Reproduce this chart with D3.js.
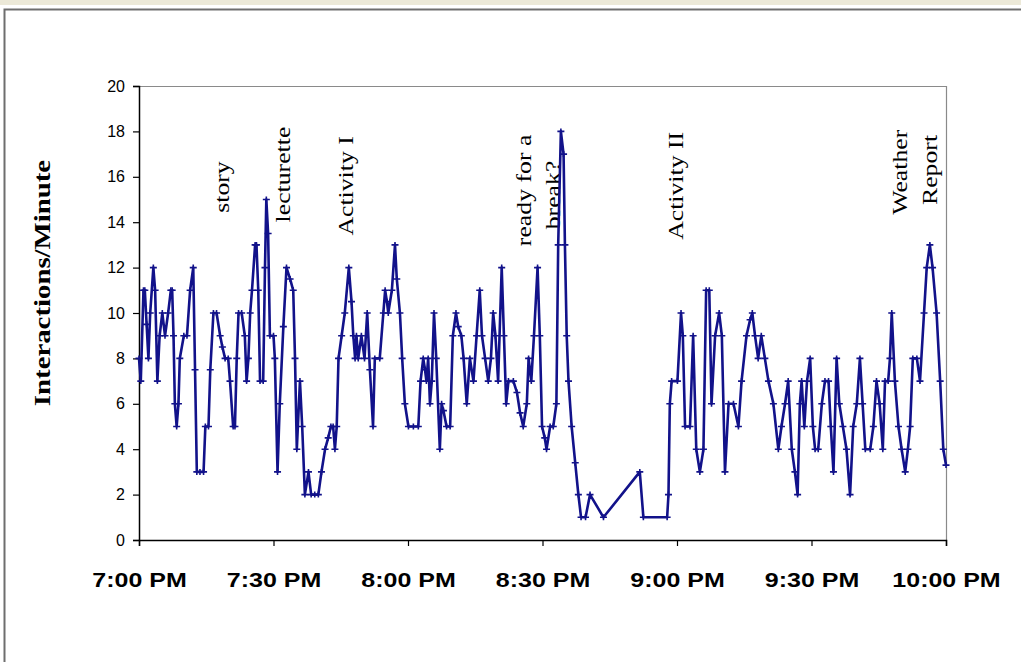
<!DOCTYPE html>
<html>
<head>
<meta charset="utf-8">
<script src="https://cdn.jsdelivr.net/npm/d3@7"></script>
<style>
  html, body { margin: 0; padding: 0; background: #fff; }
  svg { display: block; }
</style>
</head>
<body>
<svg id="chart" width="1021" height="662"></svg>
<script>
// ---- Data (minutes after 7:00 PM, interactions per minute) ----
const minutes = [
  0, 0.4, 1, 1.3, 1.7, 2.1, 2.5, 3.2, 3.6, 4.1, 4.6, 5.2, 5.8, 6.5, 7.1, 7.4, 7.7, 8, 8.4, 8.8,
  9.1, 10, 10.7, 11.4, 12.1, 12.5, 12.9, 13.6, 14.4, 14.8, 15.5, 15.9, 16.6, 17.3, 18.1, 18.6, 19.2, 19.9, 20.3, 21,
  21.4, 21.8, 22.2, 22.9, 23.6, 24, 24.4, 24.8, 25.2, 25.9, 26.2, 26.6, 27, 27.7, 28.1, 28.4, 28.8, 29.2, 30, 30.3,
  30.9, 31.4, 32.2, 32.9, 33.7, 34.4, 34.8, 35.2, 35.9, 36.4, 37, 37.8, 38.4, 39.2, 40, 40.7, 41.5, 42.2, 42.8, 43.3,
  43.7, 44.1, 44.5, 45.2, 45.9, 46.8, 47.4, 47.8, 48.2, 48.5, 48.9, 49.6, 50.3, 50.9, 51.5, 52.2, 52.6, 53.7, 54.5, 54.9,
  55.3, 55.6, 56.4, 57.1, 57.5, 58.2, 58.7, 59.3, 60.1, 61.2, 62.3, 62.8, 63.4, 63.8, 64.1, 64.5, 64.9, 65.3, 65.8, 66.3,
  67.1, 67.5, 67.9, 68.6, 69.4, 70, 70.7, 71.2, 71.9, 72.4, 73.1, 73.8, 74.6, 75.3, 76, 76.5, 77.2, 77.9, 78.5, 79,
  79.5, 80.1, 80.9, 81.4, 81.9, 82.4, 83.5, 84.3, 85, 85.7, 86.5, 86.9, 87.5, 88.1, 88.9, 89.4, 89.9, 90.5, 90.9, 91.7,
  92.4, 93.1, 93.5, 94.1, 94.7, 95, 95.4, 95.8, 96.5, 97.3, 98, 98.6, 99.6, 100.6, 103.6, 111.7, 112.5, 117.8, 118.1, 118.4,
  118.8, 120.1, 120.9, 121.3, 121.8, 122.9, 123.6, 124.3, 125.1, 125.9, 126.5, 127.2, 127.7, 128.5, 129.4, 130, 130.7, 131.5, 132.6, 133.7,
  134.4, 135.5, 136.3, 136.8, 137.4, 138.1, 138.8, 139.6, 140.4, 141.5, 142.6, 143.3, 144.1, 144.8, 145.6, 146.3, 146.9, 147.4, 147.8, 148.4,
  149, 149.7, 150.3, 150.8, 151.5, 152.3, 153, 153.8, 154.3, 154.9, 155.6, 156.2, 157, 157.8, 158.6, 159.3, 160.1, 160.8, 161.4, 162,
  163.1, 163.8, 164.5, 165.2, 165.9, 166.4, 167.1, 167.5, 167.9, 168.6, 169.4, 170.1, 170.9, 171.5, 172, 172.6, 173.5, 174.2, 175.1, 175.7,
  176.4, 177, 177.9, 178.7, 179.4, 180
];
const interactions = [
  8, 7, 11, 11, 9.5, 8, 10, 12, 11, 7, 9, 10, 9, 10, 11, 11, 9, 6, 5, 6,
  8, 9, 9, 11, 12, 7.5, 3, 3, 3, 5, 5, 7.5, 10, 10, 9, 8.5, 8, 8, 7, 5,
  5, 8, 10, 10, 9, 7, 8, 10, 11, 13, 13, 11, 7, 7, 12, 15, 13.5, 9, 9, 8,
  3, 6, 9.4, 12, 11.5, 11, 8, 4, 7, 5, 2, 3, 2, 2, 2, 3, 4, 4.5, 5, 5,
  4, 5, 8, 9, 10, 12, 10.5, 9, 8, 9, 8, 9, 8, 10, 7.5, 5, 8, 8, 10, 11,
  10.5, 10, 11, 13, 11.5, 10, 8, 6, 5, 5, 5, 7, 8, 7.5, 7, 8, 6, 7, 10, 8,
  4, 6, 5.7, 5, 5, 9, 10, 9.4, 9, 8, 6, 8, 7, 9, 11, 9, 8, 7, 8, 10,
  9, 7, 12, 9, 6, 7, 7, 6.5, 5.6, 5, 6, 8, 7, 9, 12, 9, 5, 4.5, 4, 5,
  5, 6, 13, 18, 17, 13, 9, 7, 5, 3.4, 2, 1, 1, 2, 1, 3, 1, 1, 2, 6,
  7, 7, 10, 9, 5, 5, 9, 4, 3, 4, 11, 11, 6, 9, 10, 9, 3, 6, 6, 5,
  7, 9, 9.7, 10, 9, 8, 9, 8, 7, 6, 4, 5, 6, 7, 4, 3, 2, 6, 7, 5,
  7, 8, 5, 4, 4, 6, 7, 7, 5, 3, 8, 6, 5, 4, 2, 5, 6, 8, 6, 4,
  4, 5, 7, 6, 4, 7, 7, 8, 10, 7, 5, 4, 3, 4, 5, 8, 8, 7, 10, 12,
  13, 12, 10, 7, 4, 3.3
];
const xTickMinutes = [0, 30, 60, 90, 120, 150, 180];
const xTickLabels = ["7:00 PM", "7:30 PM", "8:00 PM", "8:30 PM", "9:00 PM", "9:30 PM", "10:00 PM"];
const yTickValues = [0, 2, 4, 6, 8, 10, 12, 14, 16, 18, 20];
const yAxisTitle = "Interactions/Minute";
const annotationTexts = ["story", "lecturette", "Activity I", "ready for a", "break?", "Activity II", "Weather", "Report"];
const annotationMinutes = [18.5, 32.0, 46.2, 85.8, 92.2, 119.6, 169.7, 176.4];
const annotationLevels = [15.55, 16.1, 15.6, 15.4, 15.2, 15.6, 16.2, 16.3];

// ---- Layout ----
const svg = d3.select("#chart");
const plot = { left: 139, right: 946, top: 86, bottom: 540 };
const x = d3.scaleLinear().domain([0, 180]).range([plot.left, plot.right]);
const y = d3.scaleLinear().domain([0, 20]).range([plot.bottom, plot.top]);
const lineColor = "#12128a";

// outer frame
svg.append("rect").attr("x", 0).attr("y", 0).attr("width", 1021).attr("height", 5).attr("fill", "#ece9d8");
svg.append("rect").attr("x", 4.5).attr("y", 9.5).attr("width", 1040).attr("height", 680)
  .attr("fill", "none").attr("stroke", "#6e6e6e").attr("stroke-width", 2);

// plot border (top/right)
svg.append("path")
  .attr("d", `M${plot.left},${plot.top + 0.5}H${plot.right + 0.5}V${plot.bottom}`)
  .attr("fill", "none").attr("stroke", "#8a8a8a").attr("stroke-width", 1.2);

// y axis
const yAxis = d3.axisLeft(y).tickValues(yTickValues).tickSize(6).tickPadding(8).tickFormat(d3.format("d"));
const gy = svg.append("g").attr("transform", `translate(${plot.left},0)`).call(yAxis);
gy.select(".domain").attr("stroke", "#000").attr("stroke-width", 1.5);
gy.selectAll(".tick line").attr("stroke", "#000").attr("stroke-width", 1.2);
gy.selectAll(".tick text").attr("font-family", "Liberation Sans, Arial, sans-serif")
  .attr("font-size", 16).attr("fill", "#000");

// x axis
const xAxis = d3.axisBottom(x).tickValues(xTickMinutes).tickSize(6).tickPadding(27)
  .tickFormat((d, i) => xTickLabels[i]);
const gx = svg.append("g").attr("transform", `translate(0,${plot.bottom})`).call(xAxis);
gx.select(".domain").attr("stroke", "#000").attr("stroke-width", 1.5);
gx.selectAll(".tick line").attr("stroke", "#000").attr("stroke-width", 1.2);
gx.selectAll(".tick text")
  .attr("font-family", "Liberation Sans, Arial, sans-serif")
  .attr("font-weight", "bold").attr("font-size", 20).attr("fill", "#000")
  .attr("transform", "scale(1.25,1)").attr("x", 0);

// y axis title
svg.append("text")
  .attr("transform", "translate(50,283) rotate(-90) scale(1.2,1)")
  .attr("text-anchor", "middle")
  .attr("font-family", "Liberation Serif, Times New Roman, serif")
  .attr("font-weight", "bold").attr("font-size", 24).attr("fill", "#000")
  .text(yAxisTitle);

// annotations (drawn beneath the data line, as in the original)
svg.append("g").selectAll("text.ann").data(annotationTexts).join("text")
  .attr("class", "ann")
  .attr("transform", (d, i) => `translate(${x(annotationMinutes[i])},${y(annotationLevels[i])}) rotate(-90) scale(1.17,1)`)
  .attr("text-anchor", "middle")
  .attr("dominant-baseline", "central")
  .attr("font-family", "Liberation Serif, Times New Roman, serif")
  .attr("font-size", 22).attr("fill", "#000")
  .text(d => d);

// data line
const pts = minutes.map((m, i) => [m, interactions[i]]);
const line = d3.line().x(d => x(d[0])).y(d => y(d[1]));
svg.append("path").datum(pts).attr("d", line)
  .attr("fill", "none").attr("stroke", lineColor).attr("stroke-width", 2.6)
  .attr("stroke-linejoin", "round");

// markers (+)
svg.append("g").selectAll("path.mk").data(pts).join("path")
  .attr("class", "mk")
  .attr("d", d => `M${x(d[0]) - 3.5},${y(d[1])}h7M${x(d[0])},${y(d[1]) - 3}v6`)
  .attr("stroke", lineColor).attr("stroke-width", 1.6);
</script>
</body>
</html>
